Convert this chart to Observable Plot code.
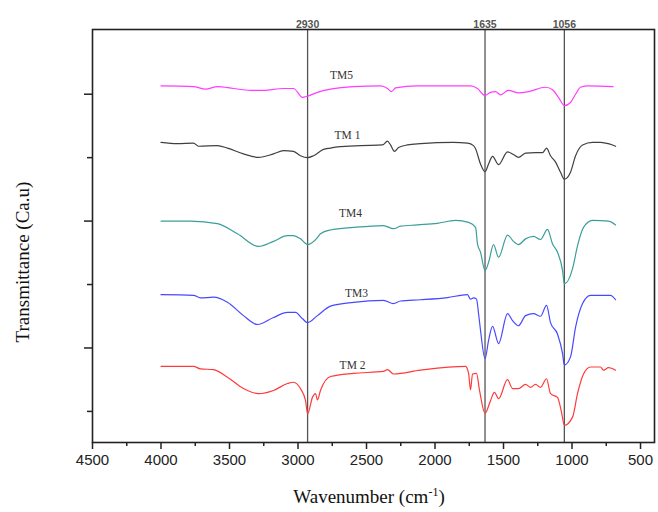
<!DOCTYPE html>
<html>
<head>
<meta charset="utf-8">
<script src="https://cdn.jsdelivr.net/npm/d3@7"></script>
<script src="https://cdn.jsdelivr.net/npm/@observablehq/plot@0.6"></script>
<style>
  body { margin: 0; background: #fff; }
  g[aria-label="peak-labels"] text { letter-spacing: 1.2px; }
</style>
</head>
<body>
<script>
// ---- data (wavenumber cm-1, transmittance a.u. with vertical offsets) ----
const series = ["TM5", "TM1", "TM4", "TM3", "TM2"];
const colors = ["#ff3cff", "#404040", "#3a9e9a", "#4848ff", "#ff3a3a"];
const peaks = [2930, 1635, 1056];
const xMajorTicks = [4500, 4000, 3500, 3000, 2500, 2000, 1500, 1000, 500];
const xMinorTicks = [4250, 3750, 3250, 2750, 2250, 1750, 1250, 750];
const yMajorTicks = [10, 30, 50];
const yMinorTicks = [0, 20, 40];

const tm5 = [[4000,51.3],[3763,51.2],[3675,50.8],[3588,51.2],[3471,50.9],[3347,50.6],[3252,50.6],[3106,50.9],[3033,50.9],[2967,49.5],[2930,49.7],[2858,50.3],[2763,50.8],[2595,51.2],[2398,51.3],[2347,50.9],[2318,50.4],[2288,51.0],[2128,51.3],[1982,51.3],[1850,51.3],[1741,51.3],[1690,50.9],[1635,49.8],[1595,50.3],[1558,50.4],[1522,49.9],[1464,50.6],[1391,50.2],[1318,50.4],[1193,51.1],[1142,50.7],[1099,49.5],[1056,48.2],[1011,48.7],[974,50.0],[938,51.1],[880,51.3],[700,51.2]];

const tm1 = [[4000,42.4],[3880,42.2],[3763,42.3],[3726,41.8],[3588,41.9],[3515,41.5],[3398,40.6],[3288,40.05],[3179,40.6],[3106,41.1],[3033,41.0],[2982,40.3],[2930,40.0],[2887,40.3],[2814,41.3],[2763,41.5],[2712,41.7],[2544,41.9],[2383,42.0],[2347,42.6],[2325,42.0],[2296,41.0],[2266,41.6],[2201,42.0],[2106,42.2],[1865,42.4],[1763,42.3],[1719,41.9],[1704,41.4],[1668,39.0],[1635,37.8],[1609,39.0],[1580,40.2],[1536,38.9],[1471,40.9],[1427,40.5],[1391,40.05],[1339,40.7],[1266,40.8],[1215,40.8],[1186,41.5],[1157,40.3],[1120,39.3],[1084,37.7],[1056,36.6],[1011,37.7],[974,40.3],[923,42.0],[850,42.4],[792,42.4],[755,42.3],[704,42.0],[682,41.8]];

const tm4 = [[4000,30.0],[3785,30.0],[3588,29.6],[3442,28.0],[3288,26.0],[3179,26.8],[3077,27.7],[3033,27.7],[2982,27.2],[2930,26.3],[2858,27.4],[2836,28.0],[2763,28.6],[2595,29.0],[2376,29.3],[2303,28.8],[2252,29.2],[2128,29.4],[1982,29.65],[1850,30.1],[1755,29.8],[1704,29.0],[1690,26.4],[1668,25.1],[1635,22.2],[1609,23.5],[1573,26.3],[1536,24.3],[1471,27.8],[1427,26.8],[1391,26.3],[1339,27.2],[1281,27.6],[1230,27.1],[1179,28.7],[1142,26.4],[1106,25.1],[1069,22.2],[1056,20.1],[996,22.5],[960,26.1],[916,29.0],[850,30.1],[734,30.0],[682,29.4]];

const tm3 = [[4000,18.4],[3763,18.3],[3712,17.9],[3617,18.0],[3515,17.2],[3398,15.1],[3296,13.7],[3179,14.8],[3077,15.6],[3018,15.6],[2967,14.6],[2930,14.0],[2858,15.1],[2763,16.6],[2595,17.2],[2376,17.5],[2303,17.0],[2252,17.4],[2106,17.6],[1909,17.95],[1763,18.4],[1741,17.7],[1719,17.9],[1697,17.7],[1682,15.4],[1668,12.8],[1635,8.3],[1609,11.2],[1580,13.4],[1536,10.7],[1471,15.4],[1434,14.3],[1391,13.5],[1339,15.1],[1281,15.4],[1230,15.0],[1186,16.7],[1157,14.0],[1106,12.2],[1069,9.1],[1056,7.3],[1011,8.6],[974,13.3],[923,17.0],[865,18.3],[777,18.3],[719,18.3],[682,17.6]];

const tm2 = [[4000,7.1],[3763,7.1],[3712,6.7],[3617,6.6],[3515,5.4],[3398,3.6],[3288,2.8],[3179,3.3],[3077,4.4],[3033,4.6],[2982,3.6],[2945,1.7],[2930,-0.4],[2894,2.25],[2872,2.8],[2858,1.8],[2836,3.3],[2763,5.5],[2595,6.0],[2376,6.3],[2347,6.6],[2303,5.9],[2106,6.5],[1777,7.1],[1755,6.0],[1741,3.4],[1726,5.9],[1697,6.0],[1675,3.3],[1635,-0.3],[1595,1.7],[1566,3.0],[1536,2.0],[1471,5.0],[1434,3.6],[1391,3.6],[1339,4.25],[1303,3.8],[1266,4.25],[1230,3.8],[1186,5.15],[1157,2.8],[1106,2.2],[1077,-0.1],[1056,-2.2],[996,-0.9],[960,2.8],[916,5.9],[865,7.0],[792,7.0],[770,6.5],[734,6.9],[682,6.5]];

const spectra = [tm5, tm1, tm4, tm3, tm2];
const labelNames = ["TM5", "TM 1", "TM4", "TM3", "TM 2"];
const labelWn = [2682, 2639, 2617, 2573, 2602];
const labelT = [52.9, 43.5, 31.2, 18.6, 7.2];

// ---- build tables ----
const data = series.flatMap((s, i) => spectra[i].map(([wn, t]) => ({series: s, wn, t})));
const labels = labelNames.map((name, i) => ({name, wn: labelWn[i], t: labelT[i]}));

const chart = Plot.plot({
  width: 658,
  height: 512,
  marginLeft: 92,
  marginRight: 4,
  marginTop: 29,
  marginBottom: 70,
  style: {fontFamily: "'Liberation Sans', Arial, sans-serif", background: "#fff"},
  x: {domain: [4500, 398]},
  y: {domain: [-4.9, 60.2]},
  color: {domain: series, range: colors},
  marks: [
    Plot.ruleX(peaks, {x: d => d, stroke: "#555", strokeWidth: 1.3}),
    Plot.line(data, {x: "wn", y: "t", z: "series", stroke: "series", strokeWidth: 1.2, curve: "monotone-x"}),
    Plot.text(labels, {x: "wn", y: "t", text: "name", fontFamily: "'Liberation Serif', 'Times New Roman', serif", fontSize: 11.5, fill: "#333"}),
    Plot.text(peaks, {x: d => d, text: d => String(d), frameAnchor: "top", dy: -9, fontSize: 10.5, fontWeight: "bold", fill: "#555", ariaLabel: "peak-labels"}),
    Plot.frame({stroke: "#222", strokeWidth: 1.6}),
    Plot.axisX({ticks: xMajorTicks, tickSize: 7, tickPadding: 5, fontSize: 15, tickFormat: d => String(d), label: null, stroke: "#222", strokeWidth: 1.5, fill: "#222"}),
    Plot.axisX({ticks: xMinorTicks, tickSize: 4, tickFormat: () => "", label: null, stroke: "#222", strokeWidth: 1.5}),
    Plot.axisY({ticks: yMajorTicks, tickSize: 8, tickFormat: () => "", label: null, stroke: "#222", strokeWidth: 1.5}),
    Plot.axisY({ticks: yMinorTicks, tickSize: 5, tickFormat: () => "", label: null, stroke: "#222", strokeWidth: 1.5})
  ]
});

document.body.appendChild(chart);

// axis titles (real text)
const svg = d3.select(chart);
svg.append("text")
  .attr("transform", "translate(25,262) rotate(-90)")
  .attr("text-anchor", "middle")
  .attr("dominant-baseline", "middle")
  .attr("font-family", "'Liberation Serif', 'Times New Roman', serif")
  .attr("font-size", 19)
  .attr("fill", "#111")
  .text("Transmittance (Ca.u)");

const xl = svg.append("text")
  .attr("x", 369)
  .attr("y", 503)
  .attr("text-anchor", "middle")
  .attr("font-family", "'Liberation Serif', 'Times New Roman', serif")
  .attr("font-size", 19)
  .attr("fill", "#111");
xl.append("tspan").text("Wavenumber (cm");
xl.append("tspan").attr("font-size", 12).attr("dy", -7).text("-1");
xl.append("tspan").attr("dy", 7).text(")");
</script>
</body>
</html>
